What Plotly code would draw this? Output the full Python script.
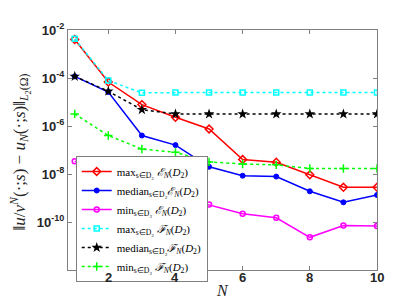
import plotly.graph_objects as go

N = [1, 2, 3, 4, 5, 6, 7, 8, 9, 10]
max_E = [4.0e-3, 6.8e-5, 7.8e-6, 2.3e-6, 7.5e-7, 4.0e-8, 3.1e-8, 9.3e-9, 2.8e-9, 2.8e-9]
median_E = [1.17e-4, 2.6e-5, 4.0e-7, 1.6e-7, 2.0e-8, 8.5e-9, 7.8e-9, 1.9e-9, 6.6e-10, 1.33e-9]
min_E = [3.4e-8, 1.0e-8, 3.0e-9, 1.2e-9, 5.3e-10, 2.2e-10, 1.5e-10, 2.3e-11, 7.2e-11, 6.8e-11]
max_F = [4.3e-3, 7.8e-5, 2.4e-5, 2.5e-5, 2.5e-5, 2.5e-5, 2.5e-5, 2.5e-5, 2.5e-5, 2.5e-5]
median_F = [1.17e-4, 2.8e-5, 4.8e-6, 3.16e-6, 3.16e-6, 3.16e-6, 3.16e-6, 3.16e-6, 3.16e-6, 3.16e-6]
min_F = [3.2e-6, 4.0e-7, 1.1e-7, 8.0e-8, 3.2e-8, 2.6e-8, 2.4e-8, 1.7e-8, 1.7e-8, 1.7e-8]

x_ticks = [2, 4, 6, 8, 10]
y_tick_exps = [-12, -10, -8, -6, -4, -2]

names = [
    "max<sub>s∈D₂</sub> <i>ℰ<sub>N</sub></i>(<i>D</i><sub>2</sub>)",
    "median<sub>s∈D₂</sub><i>ℰ<sub>N</sub></i>(<i>D</i><sub>2</sub>)",
    "min<sub>s∈D₂</sub> <i>ℰ<sub>N</sub></i>(<i>D</i><sub>2</sub>)",
    "max<sub>s∈D₂</sub> <i>ℱ<sub>N</sub></i>(<i>D</i><sub>2</sub>)",
    "median<sub>s∈D₂</sub><i>ℱ<sub>N</sub></i>(<i>D</i><sub>2</sub>)",
    "min<sub>s∈D₂</sub> <i>ℱ<sub>N</sub></i>(<i>D</i><sub>2</sub>)",
]

series = [
    (max_E, "#FF0000", "solid", "diamond-open", 6, 1.5),
    (median_E, "#0000FF", "solid", "circle", 5, 1),
    (min_E, "#FF00FF", "solid", "circle-open", 5, 1.5),
    (max_F, "#00FFFF", "dot", "square-open", 5, 1.5),
    (median_F, "#000000", "dot", "star", 8, 0),
    (min_F, "#00FF00", "dot", "cross-thin-open", 6, 1.5),
]

fig = go.Figure()
for (vals, col, dash, sym, sz, mlw), name in zip(series, names):
    fig.add_trace(go.Scatter(
        x=N, y=vals, name=name, mode="lines+markers",
        line=dict(color=col, width=1.5, dash=dash),
        marker=dict(symbol=sym, size=sz, color=col, line=dict(color=col, width=mlw)),
    ))

axis_col = "#808080"
tick_font = dict(family="Liberation Sans", size=13, color="#262626")

annotations = [
    dict(text=f"<b>{v}</b>", xref="x", yref="paper", x=v, y=0.01,
         xanchor="center", yanchor="top", showarrow=False, font=tick_font)
    for v in x_ticks
]
annotations += [
    dict(text="<i>N</i>", xref="paper", yref="paper", x=0.5, y=-0.085,
         xanchor="center", yanchor="middle", showarrow=False,
         font=dict(family="Liberation Serif", size=16, color="#262626")),
    dict(text="‖<i>u</i>/<i>v<sup>N</sup></i>(·;<i>s</i>) − <i>u<sub>N</sub></i>(·;<i>s</i>)‖<sub><i>L</i><sub>2</sub>(Ω)</sub>",
         xref="paper", yref="paper", x=-0.155, y=0.49, textangle=-90,
         xanchor="center", yanchor="middle", showarrow=False,
         font=dict(family="Liberation Serif", size=17, color="#262626")),
]

fig.update_layout(
    width=407, height=305,
    margin=dict(l=60, r=38, t=22, b=43),
    paper_bgcolor="white", plot_bgcolor="white",
    showlegend=True,
    legend=dict(
        x=0.025, y=0.475, xanchor="left", yanchor="top",
        bgcolor="white", bordercolor=axis_col, borderwidth=1,
        font=dict(family="Liberation Serif", size=11, color="black"),
        tracegroupgap=0, itemwidth=30,
    ),
    xaxis=dict(
        range=[0.8, 10], tickmode="array", tickvals=x_ticks,
        showticklabels=False,
        ticks="inside", ticklen=4, tickcolor=axis_col,
        showline=True, linecolor=axis_col, linewidth=1, mirror="ticks",
        showgrid=False, zeroline=False,
    ),
    yaxis=dict(
        type="log", range=[-12, -2],
        tickvals=[10.0 ** e for e in y_tick_exps],
        ticktext=["" if e == -12 else f"<b>10<sup>{e}</sup></b>" for e in y_tick_exps],
        ticks="inside", ticklen=4, tickcolor=axis_col,
        showline=True, linecolor=axis_col, linewidth=1, mirror="ticks",
        showgrid=False, zeroline=False,
        tickfont=tick_font,
    ),
    annotations=annotations,
)

fig.write_html("out.html")
